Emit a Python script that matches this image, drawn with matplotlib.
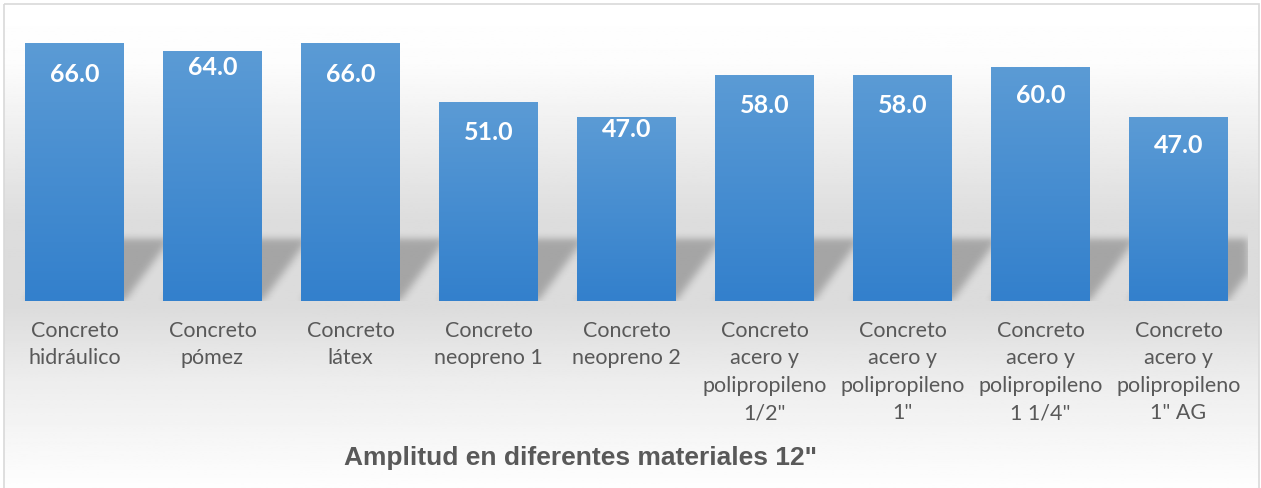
import numpy as np
import matplotlib.pyplot as plt
from matplotlib.patches import Rectangle
from matplotlib.colors import LinearSegmentedColormap

# datos
categorias = [
    "Concreto\nhidráulico",
    "Concreto\npómez",
    "Concreto\nlátex",
    "Concreto\nneopreno 1",
    "Concreto\nneopreno 2",
    "Concreto\nacero y\npolipropileno\n1/2\"",
    "Concreto\nacero y\npolipropileno\n1\"",
    "Concreto\nacero y\npolipropileno\n1 1/4\"",
    "Concreto\nacero y\npolipropileno\n1\" AG",
]
amplitud = [66.0, 64.0, 66.0, 51.0, 47.0, 58.0, 58.0, 60.0, 47.0]
titulo = "Amplitud en diferentes materiales 12\""

W, H = 1261, 489
GRIS_TXT = "#595959"
BAR_W = 0.717

fig = plt.figure(figsize=(W / 100, H / 100), dpi=100)

# fondo con degradado del area del grafico
bg = fig.add_axes([0, 0, 1, 1], zorder=-2)
bg.set_xlim(0, W)
bg.set_ylim(H, 0)
bg.axis("off")
ys = np.linspace(0, 1, 256)
stops_y = [0.0, 0.12, 0.45, 0.62, 0.78, 1.0]
stops_v = [1.0, 0.99, 0.865, 0.86, 0.93, 0.995]
col = np.interp(ys, stops_y, stops_v)
grad = np.repeat(col[:, None], 2, axis=1)
bg.imshow(grad, cmap="gray", vmin=0, vmax=1, extent=(4, 1259, H, 5), aspect="auto")
bg.add_patch(Rectangle((4, 5), 1255, H + 5, fill=False, ec="#d9d9d9", lw=1.2))

# eje principal: 0 en y=301.5 px, 70 en y=28.9 px
ax = fig.add_axes([5.5 / W, (H - 301.5) / H, 1242 / W, 272.6 / H], zorder=1)
ax.set_xlim(-0.5, len(amplitud) - 0.5)
ax.set_ylim(0, 70)
ax.patch.set_alpha(0)
for s in ax.spines.values():
    s.set_visible(False)
ax.set_xticks([])
ax.set_yticks([])

# sombra en perspectiva de cada barra
sh_h, skew = 16.0, 0.33
nx, ny = 1242, 90
gx = np.linspace(-0.5, len(amplitud) - 0.5, nx)
gy = np.linspace(0, sh_h + 4, ny)
X, Y = np.meshgrid(gx, gy)
mask = np.zeros_like(X)
for i in range(len(amplitud)):
    off = skew * Y / sh_h
    inside = (Y <= sh_h) & (X >= i - BAR_W / 2 + off) & (X <= i + BAR_W / 2 + off)
    mask[inside] = 1.0
k = np.exp(-0.5 * (np.arange(-12, 13) / 4.0) ** 2)
k /= k.sum()
mask = np.apply_along_axis(lambda r: np.convolve(r, k, mode="same"), 1, mask)
mask = np.apply_along_axis(lambda c: np.convolve(c, k, mode="same"), 0, mask)
rgba = np.zeros((ny, nx, 4))
rgba[..., 3] = mask * 0.25
ax.imshow(rgba, extent=(gx[0], gx[-1], 0, gy[-1]), origin="lower", aspect="auto", zorder=1)

# barras con degradado
cmap = LinearSegmentedColormap.from_list("azul", ["#3380cc", "#5b9bd5"])
etiqueta_off = [7.6, 3.8, 7.6, 7.6, 2.9, 7.6, 7.6, 7.1, 7.0]
bars = ax.bar(range(len(amplitud)), amplitud, width=BAR_W, color="none", zorder=2)
for i, (b, v) in enumerate(zip(bars, amplitud)):
    im = ax.imshow(np.linspace(0, 1, 100)[:, None], cmap=cmap, origin="lower",
                   extent=(b.get_x(), b.get_x() + b.get_width(), 0, v),
                   aspect="auto", zorder=2)
    im.set_clip_path(b)
    ax.text(i, v - etiqueta_off[i], f"{v:.1f}", ha="center", va="center",
            color="white", fontsize=18, fontweight="bold", family="Lato", zorder=3)
    ax.text(i, -5.0, categorias[i], ha="center", va="top", color=GRIS_TXT,
            fontsize=15.5, family="Lato", linespacing=1.46, zorder=3)

ax.set_xlim(-0.5, len(amplitud) - 0.5)
ax.set_ylim(0, 70)

fig.text(581 / W, 1 - 465 / H, titulo, ha="center", va="baseline", color=GRIS_TXT,
         fontsize=19, fontweight="bold", family="Liberation Sans")

fig.savefig("out.png", dpi=100)
